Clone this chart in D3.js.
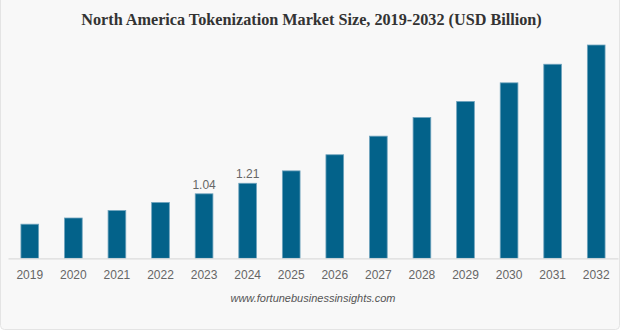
<!DOCTYPE html>
<html>
<head>
<meta charset="utf-8">
<script src="https://cdn.jsdelivr.net/npm/d3@7"></script>
<style>
  html, body { margin: 0; padding: 0; background: #ffffff; }
  svg { display: block; }
</style>
</head>
<body>
<svg id="chart" width="623" height="331"></svg>
<script>
const years = ["2019","2020","2021","2022","2023","2024","2025","2026","2027","2028","2029","2030","2031","2032"];
const values = [0.55, 0.65, 0.77, 0.90, 1.04, 1.21, 1.41, 1.67, 1.97, 2.27, 2.53, 2.83, 3.13, 3.44];
const labeledYears = ["2023", "2024"];
const titleText = "North America Tokenization Market Size, 2019-2032 (USD Billion)";
const sourceText = "www.fortunebusinessinsights.com";

const svg = d3.select("#chart");

// card background
svg.append("rect")
  .attr("x", 0.5).attr("y", -4).attr("width", 619).attr("height", 333.5)
  .attr("rx", 4).attr("fill", "#f8f8f8").attr("stroke", "#e4e4e4").attr("stroke-width", 1);

svg.append("text")
  .attr("x", 311.5).attr("y", 24.5)
  .attr("text-anchor", "middle")
  .attr("font-family", "'Liberation Serif', 'Times New Roman', serif")
  .attr("font-weight", "bold")
  .attr("font-size", 16.2)
  .attr("fill", "#333")
  .text(titleText);

const baseline = 258.3;
const x = d3.scaleBand().domain(years).range([8, 618]).paddingInner(0.594).paddingOuter(0.297);
const y = d3.scaleLinear().domain([0, 1]).range([baseline, baseline - 62]);

const g = svg.append("g");

g.selectAll("rect.bar").data(years).join("rect")
  .attr("class", "bar")
  .attr("x", d => x(d))
  .attr("width", x.bandwidth())
  .attr("y", (d, i) => y(values[i]))
  .attr("height", (d, i) => baseline - y(values[i]))
  .attr("fill", "#03628a")
  .attr("stroke", "#6fa3bd")
  .attr("stroke-width", 0.8);

// axis
const axis = d3.axisBottom(x).tickSize(0).tickPadding(0);
const ax = g.append("g").attr("transform", `translate(0,${baseline})`).call(axis);
ax.select(".domain").attr("stroke", "#dcdcdc").attr("stroke-width", 1.2);
ax.selectAll("text")
  .attr("dy", 0).attr("y", 21)
  .attr("font-family", "'Liberation Sans', Arial, sans-serif")
  .attr("font-size", 12)
  .attr("fill", "#666");

// value labels
g.selectAll("text.val").data(years.filter(d => labeledYears.includes(d))).join("text")
  .attr("class", "val")
  .attr("x", d => x(d) + x.bandwidth() / 2)
  .attr("y", d => y(values[years.indexOf(d)]) - 5)
  .attr("text-anchor", "middle")
  .attr("font-family", "'Liberation Sans', Arial, sans-serif")
  .attr("font-size", 12)
  .attr("fill", "#666")
  .text(d => values[years.indexOf(d)].toFixed(2));

svg.append("text")
  .attr("x", 313).attr("y", 301.5)
  .attr("text-anchor", "middle")
  .attr("font-family", "'Liberation Sans', Arial, sans-serif")
  .attr("font-style", "italic")
  .attr("font-size", 11)
  .attr("fill", "#555")
  .text(sourceText);
</script>
</body>
</html>
